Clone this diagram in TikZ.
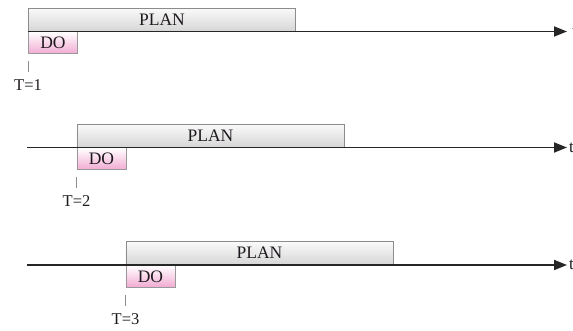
\documentclass[tikz,border=0pt]{standalone}
\usepackage{fontspec}
\setmainfont{Liberation Serif}
\usetikzlibrary{arrows.meta}
\definecolor{dopink}{RGB}{242,170,210}
\definecolor{txt}{RGB}{30,25,30}
\begin{document}
\begin{tikzpicture}[x=1pt,y=-1pt,
  planbox/.style={draw=black!45, line width=0.9pt, top color=black!2, bottom color=black!16,
    minimum width=267pt, minimum height=23pt, inner sep=0pt, anchor=south west,
    font=\fontsize{17.5}{17.5}\selectfont, text=txt},
  dobox/.style={draw=black!40, line width=0.9pt, top color=white, bottom color=dopink,
    minimum width=49pt, minimum height=22pt, inner sep=0pt, anchor=north west,
    font=\fontsize{17.5}{17.5}\selectfont, text=txt},
  axisline/.style={line width=1.8pt, black!85, -{Triangle[length=13pt,width=10pt]}},
  tickline/.style={black!45, line width=0.9pt},
  tlabel/.style={font=\fontsize{16.5}{16.5}\selectfont, text=txt, inner sep=0pt},
  tmark/.style={font=\fontsize{17}{17}\selectfont, text=txt, anchor=west, inner sep=0pt}]
\useasboundingbox (0,0) rectangle (573,331);
\foreach \i/\x/\y/\s/\e in {1/28/31.5/28/572, 2/76.5/147.5/27/569, 3/125.5/265/27/569}{
  \node[planbox] (plan\i) at (\x,\y) {PLAN};
  \node[dobox] (do\i) at (\x,\y) {DO};
  \coordinate (start\i) at (\s,\y);
  \coordinate (end\i) at (567,\y);
  \draw[axisline] (start\i) -- (end\i);
  \node[tmark] (t\i) at (\e,\y) {t};
  \coordinate (ticktop\i) at (\x,\y+30);
  \coordinate (tickbot\i) at (\x,\y+41);
  \draw[tickline] (ticktop\i) -- (tickbot\i);
  \node[tlabel] (lab\i) at (\x,\y+54) {T=\i};
}
\end{tikzpicture}
\end{document}
